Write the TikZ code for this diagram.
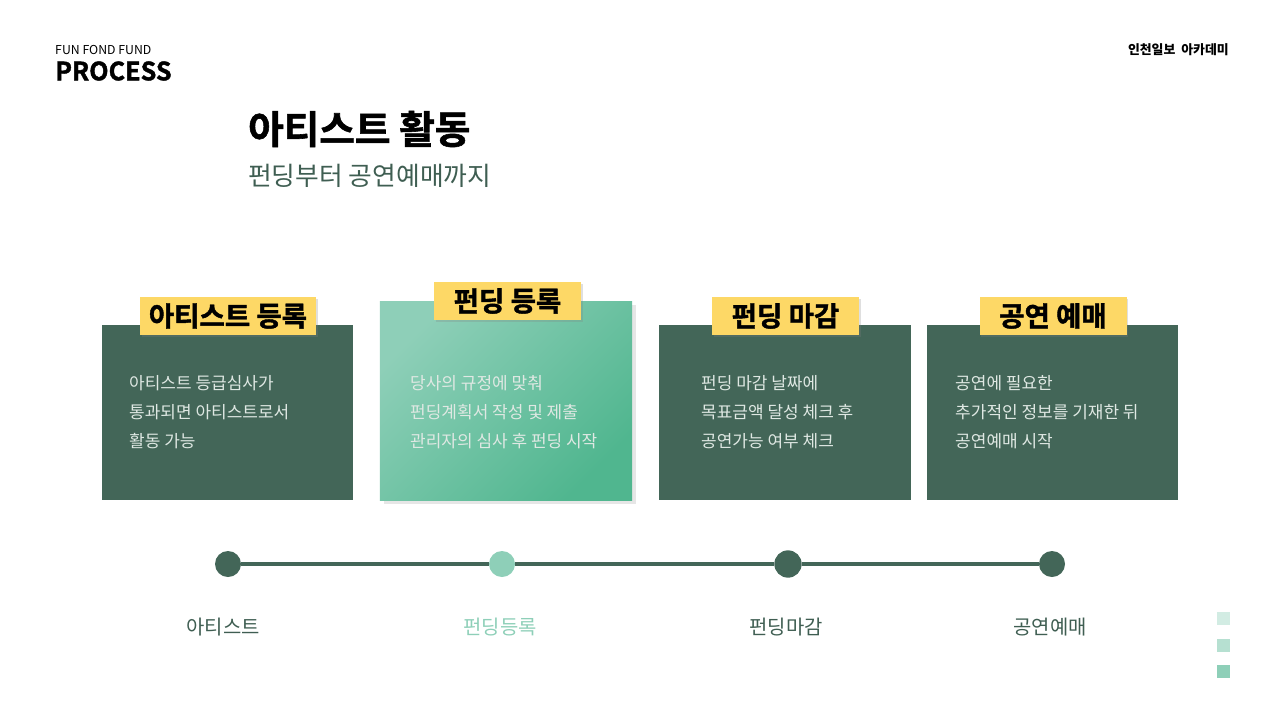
\documentclass[tikz,border=0pt]{standalone}
\usepackage{fontspec}
\setmainfont{Noto Sans CJK KR}
\newfontfamily\heavy{Noto Sans CJK KR Bold}[FakeBold=1.5]
\usetikzlibrary{shadows,backgrounds}
\definecolor{pine}{HTML}{436658}
\definecolor{mint}{HTML}{8ECFB8}
\definecolor{mintdark}{HTML}{50B68F}
\definecolor{tagyellow}{HTML}{FDD866}
\definecolor{notegray}{HTML}{DFE8E3}
\definecolor{subgreen}{HTML}{3F5E52}
\tikzset{
  card/.style={fill=pine, minimum width=7.53cm, minimum height=5.25cm, inner sep=0pt},
  tag/.style={fill=tagyellow, minimum width=4.41cm, minimum height=1.14cm, inner sep=0pt,
    font=\heavy\fontsize{23.5}{25}\selectfont,
    drop shadow={shadow xshift=1.5pt, shadow yshift=-1.5pt, opacity=0.25}},
  note/.style={anchor=west, align=left, text=notegray, inner sep=0pt,
    font=\fontsize{14.5}{24.7}\selectfont},
  dot/.style={circle, fill=pine, minimum size=0.78cm, inner sep=0pt},
  steplabel/.style={text=subgreen, inner sep=0pt, font=\fontsize{17}{19}\selectfont}
}
\begin{document}
\begin{tikzpicture}[x=0.03cm, y=-0.03cm]
\useasboundingbox (0,0) rectangle (1280,720);
% header
\node[anchor=west, inner sep=0pt, font=\fontsize{10.5}{12}\selectfont] (brand) at (55,50) {FUN FOND FUND};
\node[anchor=west, inner sep=0pt, font=\heavy\fontsize{21.5}{23}\selectfont] (process) at (55,71) {PROCESS};
\node[anchor=east, inner sep=0pt, font=\bfseries\fontsize{11}{12}\selectfont] (academy) at (1229,50) {인천일보\ \ 아카데미};
\node[anchor=west, inner sep=0pt, font=\heavy\fontsize{33}{35}\selectfont] (title) at (248,129) {아티스트 활동};
\node[anchor=west, inner sep=0pt, text=subgreen, font=\fontsize{22}{24}\selectfont] (subtitle) at (248,176) {펀딩부터 공연예매까지};
% cards
\node[card] (card1) at (227.5,412.5) {};
\node[card, minimum width=7.56cm, minimum height=5.97cm, left color=mint, right color=mintdark, shading angle=45,
  drop shadow={shadow xshift=3pt, shadow yshift=-3pt, opacity=0.2}] (card2) at (506,400.5) {};
\node[card, minimum width=7.56cm] (card3) at (785,412.5) {};
\node[card] (card4) at (1052.5,412.5) {};
\node[tag, minimum width=5.28cm] (tag1) at (228,316) {아티스트 등록};
\node[tag] (tag2) at (507.5,301) {펀딩 등록};
\node[tag] (tag3) at (785.5,316) {펀딩 마감};
\node[tag] (tag4) at (1053,316) {공연 예매};
\node[note] (note1) at (129,412) {아티스트 등급심사가\\통과되면 아티스트로서\\활동 가능};
\node[note] (note2) at (410,412) {당사의 규정에 맞춰\\펀딩계획서 작성 및 제출\\관리자의 심사 후 펀딩 시작};
\node[note] (note3) at (701,412) {펀딩 마감 날짜에\\목표금액 달성 체크 후\\공연가능 여부 체크};
\node[note] (note4) at (955,412) {공연에 필요한\\추가적인 정보를 기재한 뒤\\공연예매 시작};
% timeline
\node[dot] (dot1) at (228,564) {};
\node[dot, fill=mint] (dot2) at (502,564) {};
\node[dot, minimum size=0.82cm] (dot3) at (788,564) {};
\node[dot] (dot4) at (1052,564) {};
\foreach \a/\b in {dot1/dot2, dot2/dot3, dot3/dot4}
  \draw[pine, line width=3.4pt] (\a) -- (\b);
\node[steplabel] (step1) at (223,627) {아티스트};
\node[steplabel, text=mint] (step2) at (500,627) {펀딩등록};
\node[steplabel] (step3) at (786,627) {펀딩마감};
\node[steplabel] (step4) at (1050,627) {공연예매};
% corner squares
\fill[mint!40] (1217,612) rectangle (1230,625);
\fill[mint!65] (1217,639) rectangle (1230,652);
\fill[mint] (1217,665) rectangle (1230,678);
\end{tikzpicture}
\end{document}
